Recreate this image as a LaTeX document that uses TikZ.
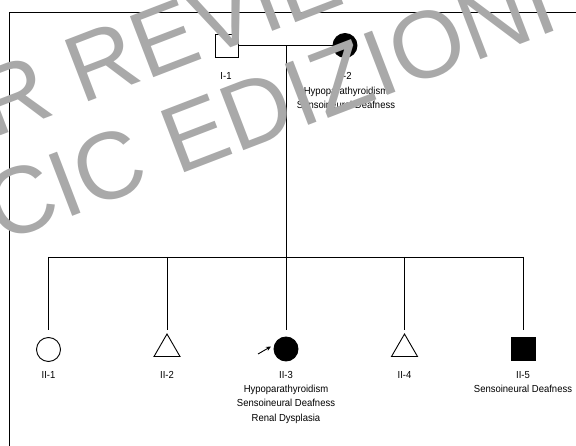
\documentclass[tikz,border=0pt]{standalone}
\usepackage{fontspec}
\setmainfont{Liberation Sans}
\newfontfamily\lblfont{Liberation Sans}[FakeStretch=0.93]
\newfontfamily\wmfont{Liberation Sans}
\usetikzlibrary{shapes.geometric,arrows.meta}
\definecolor{wmgray}{HTML}{A9A9A9}
\begin{document}
\begin{tikzpicture}[x=1pt,y=-1pt,
  ln/.style={line width=0.9pt},
  male/.style={draw,ln,rectangle,minimum size=23pt,inner sep=0pt},
  female/.style={draw,ln,circle,minimum size=24pt,inner sep=0pt},
  unk/.style={draw,ln,regular polygon,regular polygon sides=3,minimum size=30pt,inner sep=0pt},
  aff/.style={fill=black},
  lbl/.style={anchor=north,inner sep=0pt,align=center,font=\lblfont\fontsize{10.2}{14.3}\selectfont},
  wm/.style={anchor=base west,rotate=21,inner sep=0pt,text=wmgray,font=\wmfont\fontsize{95}{95}\selectfont}]
\useasboundingbox (0,0) rectangle (576,446);
\begin{scope}
\clip (0,0) rectangle (576,446);
% frame
\draw[line width=0.8pt] (9,446) -- (9,12) -- (576,12);
% generation I
\node[male] (I1) at (226.5,45.5) {};
\node[female,aff] (I2) at (345,45.5) {};
\draw[ln] (I1.east) -- (I2.west);
\coordinate (d1) at (286,45.5);
\coordinate (d2) at (286,257);
\draw[ln] (d1) -- (d2);
\node[lbl] (lI1) at (226,72.4) {I-1};
\node[lbl] (lI2) at (346,72.4) {I-2\\Hypoparathyroidism\\Sensoineural Deafness};
% sibship
\coordinate (s1) at (48,257);
\coordinate (s5) at (523,257);
\draw[ln] (s1) -- (s5);
% generation II
\node[female] (II1) at (48.5,349.5) {};
\node[unk] (II2) at (167,349) {};
\node[female,aff] (II3) at (286,349) {};
\node[unk] (II4) at (404.5,349) {};
\node[male,aff,minimum width=24pt] (II5) at (523,348.5) {};
\foreach \x/\n in {48/1,167/2,286/3,404.5/4,523/5}{
  \coordinate (t\n) at (\x,257);
  \coordinate (b\n) at (\x,330);
  \draw[ln] (t\n) -- (b\n);
}
% proband arrow
\coordinate (pa) at (258,354);
\coordinate (pb) at (271,346.5);
\draw[line width=0.9pt,-{Stealth[length=5pt,width=4.5pt]}] (pa) -- (pb);
% labels
\node[lbl] (lII1) at (48.5,371) {II-1};
\node[lbl] (lII2) at (167,371) {II-2};
\node[lbl] (lII3) at (286,371) {II-3\\Hypoparathyroidism\\Sensoineural Deafness\\Renal Dysplasia};
\node[lbl] (lII4) at (404.5,371) {II-4};
\node[lbl] (lII5) at (523,371) {II-5\\Sensoineural Deafness};
% watermark
\node[wm] (wm1) at (-130,186) {FOR REVIEW};
\node[wm] (wm2) at (0,244) {CIC EDIZIONI};
\end{scope}
\end{tikzpicture}
\end{document}
